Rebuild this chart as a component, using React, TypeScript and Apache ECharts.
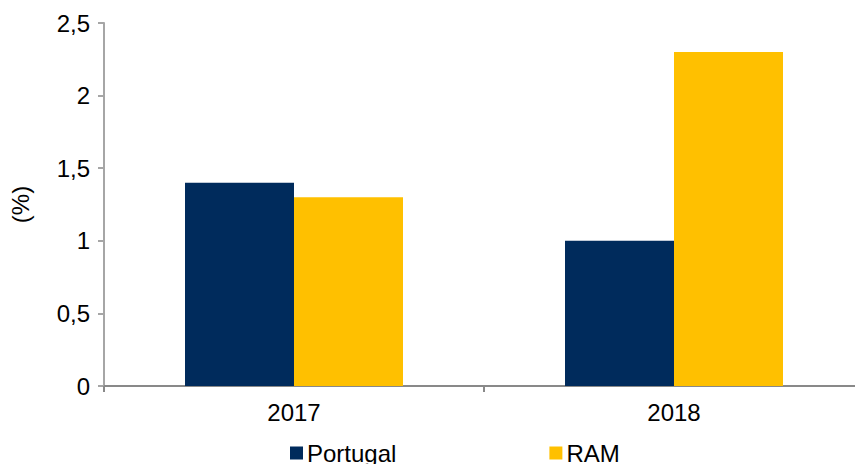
import React, { useEffect, useRef } from "react";
import * as echarts from "echarts";

const categories = ["2017", "2018"];
const portugal = [1.4, 1.0];
const ram = [1.3, 2.3];
const seriesNames = ["Portugal", "RAM"];

export default function App() {
  const ref = useRef<HTMLDivElement>(null);
  useEffect(() => {
    if (!ref.current) return;
    document.documentElement.style.overflow = "hidden";
    document.body.style.overflow = "hidden";
    const chart = echarts.init(ref.current, null, { renderer: "svg" });
    const font = "'Liberation Sans', Arial, sans-serif";
    chart.setOption({
      animation: false,
      textStyle: { fontFamily: font },
      grid: { left: 102, top: 23, bottom: 78, right: 6, containLabel: false },
      legend: {
        data: seriesNames,
        left: 290,
        top: 441,
        padding: 0,
        itemWidth: 13,
        itemHeight: 13,
        itemGap: 153,
        icon: "rect",
        textStyle: { fontSize: 24, color: "#000", fontFamily: font, padding: [0, 0, 0, -1] },
      },
      xAxis: {
        type: "category",
        data: categories,
        axisLine: { lineStyle: { color: "#898989", width: 2 } },
        axisTick: { show: true, length: 6, lineStyle: { color: "#898989", width: 2 } },
        axisLabel: { fontSize: 24, color: "#000", margin: 14, fontFamily: font },
      },
      yAxis: {
        type: "value",
        min: 0,
        max: 2.5,
        interval: 0.5,
        name: "(%)",
        nameLocation: "middle",
        nameGap: 72,
        nameRotate: 90,
        nameTextStyle: { fontSize: 24, color: "#000", fontFamily: font },
        splitLine: { show: false },
        axisLine: { show: true, lineStyle: { color: "#a6a6a6", width: 2 } },
        axisTick: { show: true, length: 6, lineStyle: { color: "#a6a6a6", width: 2 } },
        axisLabel: {
          fontSize: 24,
          color: "#000",
          margin: 14,
          fontFamily: font,
          formatter: (v: number) => String(v).replace(".", ","),
        },
      },
      series: [
        {
          name: seriesNames[0],
          type: "bar",
          data: portugal,
          barWidth: 109,
          barGap: "0%",
          itemStyle: { color: "#002B5C" },
        },
        {
          name: seriesNames[1],
          type: "bar",
          data: ram,
          barWidth: 109,
          barGap: "0%",
          itemStyle: { color: "#FFC000" },
        },
      ],
    });
    return () => chart.dispose();
  }, []);
  return (
    <div
      ref={ref}
      style={{ position: "fixed", left: 0, top: 0, width: 870, height: 464, background: "#fff" }}
    />
  );
}
